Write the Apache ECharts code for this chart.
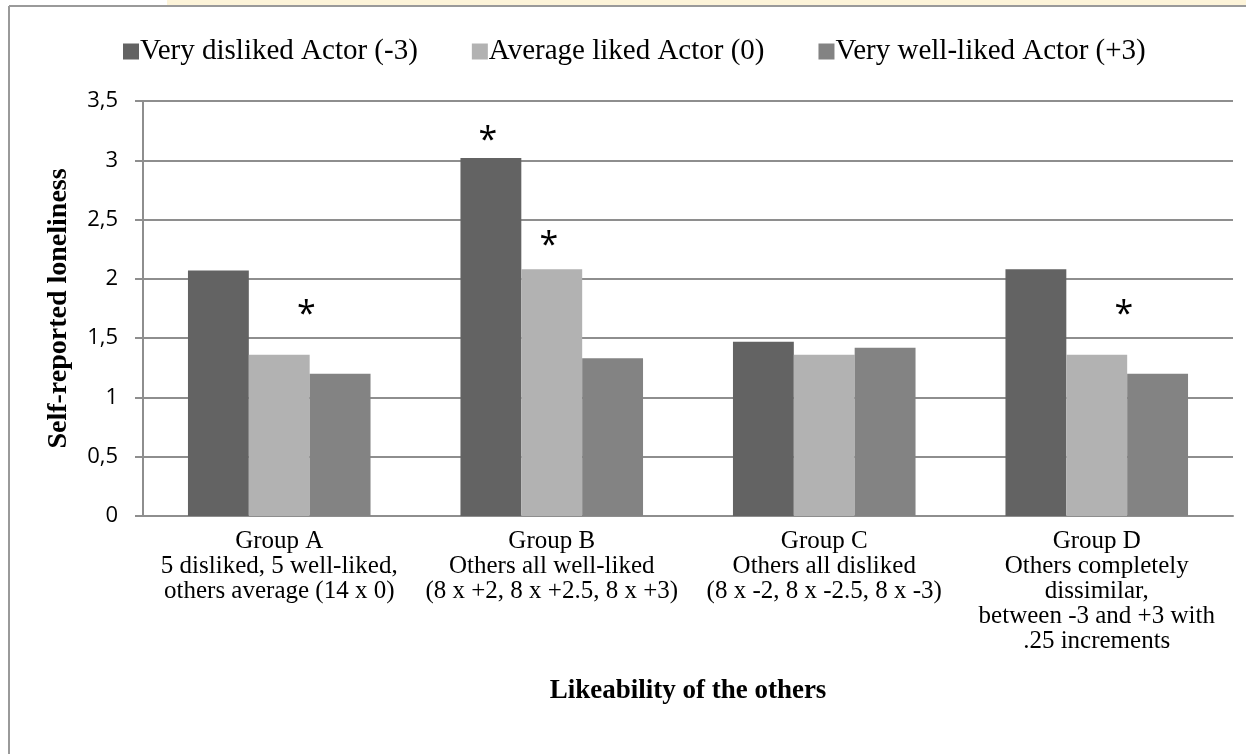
<!DOCTYPE html>
<html>
<head>
<meta charset="utf-8">
<script src="https://cdn.jsdelivr.net/npm/echarts@6/dist/echarts.min.js"></script>
<style>
  html, body { margin: 0; padding: 0; background: #fff; }
  #main { width: 1246px; height: 754px; }
</style>
</head>
<body>
<div id="main"></div>
<script>
// categories and values
var groups = [
    'Group A\n5 disliked, 5 well-liked,\nothers average (14 x 0)',
    'Group B\nOthers all well-liked\n(8 x +2, 8 x +2.5, 8 x +3)',
    'Group C\nOthers all disliked\n(8 x -2, 8 x -2.5, 8 x -3)',
    'Group D\nOthers completely\ndissimilar,\nbetween -3 and +3 with\n.25 increments'
];
var seriesNames = ['Very disliked Actor (-3)', 'Average liked Actor (0)', 'Very well-liked Actor (+3)'];
var disliked = [2.07, 3.02, 1.47, 2.08];
var average = [1.36, 2.08, 1.36, 1.36];
var wellLiked = [1.20, 1.33, 1.42, 1.20];
// which bars carry a significance star: [series index, group index]
var stars = [[1, 0], [0, 1], [1, 1], [1, 3]];
var yTicks = { min: 0, max: 3.5, step: 0.5 };

var colors = ['#636363', '#b2b2b2', '#838383'];
var serif = '"Liberation Serif", "Times New Roman", serif';
var sans = '"Open Sans", "Noto Sans", sans-serif';

function starLabel(si, gi) {
    // star for the A/D groups sits between the light and mid bars
    var between = (gi === 0 || gi === 3);
    return {
        show: true,
        position: 'top',
        formatter: '*',
        fontFamily: sans,
        fontSize: 34,
        color: '#000',
        verticalAlign: 'middle',
        offset: between ? [27, -34] : (si === 0 ? [-3, -12] : [-3, -18])
    };
}

function buildData(vals, si) {
    return vals.map(function (v, gi) {
        var hit = stars.some(function (s) { return s[0] === si && s[1] === gi; });
        return hit ? { value: v, label: starLabel(si, gi) } : v;
    });
}

var allVals = [disliked, average, wellLiked];

var myChart = echarts.init(document.getElementById('main'));
var option = {
    animation: false,
    backgroundColor: '#fff',
    color: colors,
    graphic: [
        { type: 'rect', shape: { x: 167, y: 0, width: 1079, height: 5 }, style: { fill: '#fdf4d9' }, silent: true },
        { type: 'line', shape: { x1: 9, y1: 6, x2: 1246, y2: 6 }, style: { stroke: '#9a9a9a', lineWidth: 2 }, silent: true },
        { type: 'line', shape: { x1: 9, y1: 6, x2: 9, y2: 754 }, style: { stroke: '#9a9a9a', lineWidth: 2 }, silent: true }
    ],
    legend: {
        top: 32,
        left: 118,
        itemWidth: 16,
        itemHeight: 16,
        itemGap: 54,
        icon: 'rect',
        textStyle: { fontFamily: serif, fontSize: 29, color: '#000', padding: [0, 0, 0, -4] },
        data: seriesNames
    },
    grid: { left: 143, right: 13, top: 101, bottom: 238 },
    xAxis: {
        type: 'category',
        data: groups,
        name: 'Likeability of the others',
        nameLocation: 'middle',
        nameGap: 175,
        nameTextStyle: { fontFamily: serif, fontSize: 27, fontWeight: 'bold', color: '#000', verticalAlign: 'middle' },
        axisLine: { lineStyle: { color: '#8e8e8e', width: 2 } },
        axisTick: { show: false },
        axisLabel: {
            interval: 0,
            margin: 13,
            fontFamily: serif,
            fontSize: 25,
            lineHeight: 25,
            color: '#000'
        }
    },
    yAxis: {
        type: 'value',
        min: yTicks.min,
        max: yTicks.max,
        interval: yTicks.step,
        name: 'Self-reported loneliness',
        nameLocation: 'middle',
        nameGap: 84,
        nameRotate: 90,
        nameTextStyle: { fontFamily: serif, fontSize: 28, fontWeight: 'bold', color: '#000', verticalAlign: 'middle' },
        axisLine: { show: true, lineStyle: { color: '#8e8e8e', width: 2 } },
        axisTick: { show: true, length: 8, lineStyle: { color: '#8e8e8e', width: 2 } },
        splitLine: { lineStyle: { color: '#8e8e8e', width: 2 } },
        axisLabel: {
            margin: 25,
            fontFamily: sans,
            fontSize: 22,
            color: '#000',
            formatter: function (v) { return String(v).replace('.', ','); }
        }
    },
    series: seriesNames.map(function (n, si) {
        return {
            name: n,
            type: 'bar',
            barGap: '0%',
            barCategoryGap: '33%',
            data: buildData(allVals[si], si)
        };
    })
};
myChart.setOption(option);
</script>
</body>
</html>
